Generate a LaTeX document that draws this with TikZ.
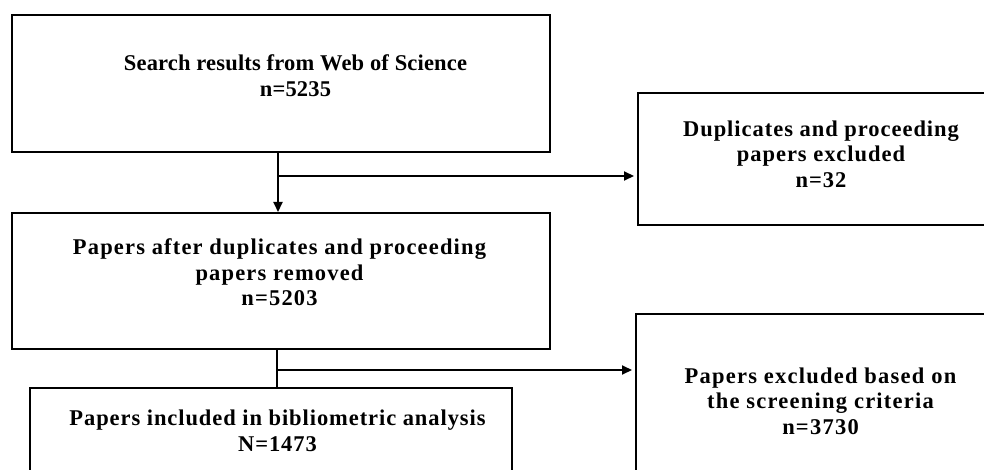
\documentclass[tikz,border=0pt]{standalone}
\usepackage{fontspec}
\setmainfont{Liberation Serif}
\usetikzlibrary{arrows.meta,calc}
\newcommand{\lsp}[1]{\addfontfeatures{LetterSpace=#1}}
\begin{document}
\begin{tikzpicture}[x=1pt,y=-1pt,
  boxstyle/.style={draw=black,line width=2pt,rectangle,inner sep=0pt},
  txt/.style={align=center,font=\fontsize{22.5}{25.5}\selectfont\bfseries,inner sep=0pt},
  arr/.style={line width=2pt,-{Triangle[length=10pt,width=9pt]}},
  plain/.style={line width=2pt}]
\useasboundingbox (0,0) rectangle (984,470);
\clip (0,0) rectangle (984,470);
% boxes
\node[boxstyle,minimum width=538pt,minimum height=137pt] (b1) at (281,83.5) {};
\node[boxstyle,minimum width=366pt,minimum height=132pt] (b2) at (821,159) {};
\node[boxstyle,minimum width=538pt,minimum height=136pt] (b3) at (281,281) {};
\node[boxstyle,minimum width=482pt,minimum height=92pt] (b4) at (271,434) {};
\node[boxstyle,minimum width=368pt,minimum height=180pt] (b5) at (820,404) {};
% texts
\node[txt] (t1) at (295.5,75.5) {\lsp{0.8}Search results from Web of Science\\\lsp{0.8}n=5235};
\node[txt] (t2) at (821,154) {\lsp{4.3}Duplicates and proceeding\\\lsp{4.3}papers excluded\\\lsp{4.3}n=32};
\node[txt] (t3) at (279.5,272.5) {\lsp{5.2}Papers after duplicates and proceeding\\\lsp{5.2}papers removed\\\lsp{5.2}n=5203};
\node[txt] (t4) at (277.5,431) {\lsp{4.1}Papers included in bibliometric analysis\\\lsp{4.1}N=1473};
\node[txt] (t5) at (820.5,401) {\lsp{5.5}Papers excluded based on\\\lsp{5.5}the screening criteria\\\lsp{5.5}n=3730};
% connectors
\coordinate (j1) at (278,176);
\coordinate (j2) at (277,370);
\draw[arr] (j1 |- b1.south) -- (j1 |- b3.north);
\draw[arr] (j1) -- ($(j1 -| b2.west)+(-3,0)$);
\draw[plain] (j2 |- b3.south) -- (j2 |- b4.north);
\draw[arr] (j2) -- ($(j2 -| b5.west)+(-3,0)$);
\end{tikzpicture}
\end{document}
